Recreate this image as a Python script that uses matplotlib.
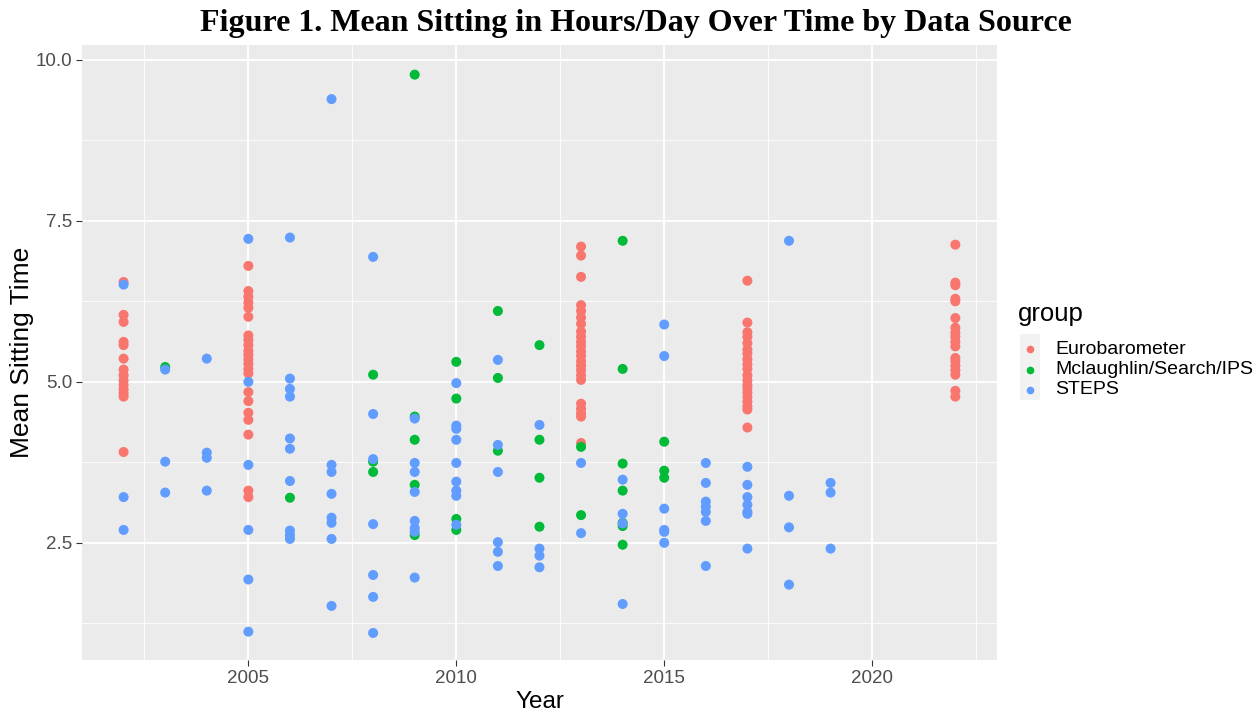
import matplotlib.pyplot as plt
from matplotlib.patches import Rectangle

plt.rcParams['font.family'] = ['Liberation Sans', 'DejaVu Sans']

# ---- data ----
groups = ["Eurobarometer", "Mclaughlin/Search/IPS", "STEPS"]
colors = ["#F8766D", "#00BA38", "#619CFF"]

# Eurobarometer: year -> mean sitting values
euro = {
    2002: [6.55, 6.04, 5.93, 5.62, 5.57, 5.36, 5.19, 5.10, 5.02, 4.95, 4.88, 4.82, 4.77, 3.91],
    2005: [6.80, 6.41, 6.32, 6.23, 6.15, 6.01, 5.72, 5.65, 5.57, 5.48, 5.42, 5.35, 5.28, 5.20,
           5.13, 4.84, 4.70, 4.52, 4.41, 4.18, 3.31, 3.21],
    2013: [7.10, 6.96, 6.63, 6.19, 6.10, 6.00, 5.90, 5.78, 5.70, 5.62, 5.55, 5.47, 5.40, 5.32,
           5.25, 5.18, 5.10, 5.03, 4.66, 4.58, 4.51, 4.46, 4.05],
    2017: [6.57, 5.92, 5.77, 5.70, 5.60, 5.50, 5.44, 5.35, 5.27, 5.20, 5.10, 5.02, 4.95, 4.90,
           4.83, 4.76, 4.69, 4.62, 4.57, 4.29],
    2022: [7.13, 6.54, 6.50, 6.29, 6.25, 5.99, 5.84, 5.76, 5.70, 5.62, 5.55, 5.37, 5.32, 5.25,
           5.18, 5.11, 4.86, 4.77],
}

mcl = {
    2003: [5.23],
    2006: [3.20],
    2008: [5.11, 3.76, 3.60],
    2009: [9.77, 4.46, 4.10, 3.40, 2.62],
    2010: [5.31, 4.74, 2.87, 2.70],
    2011: [6.10, 5.06, 3.93],
    2012: [5.57, 4.10, 3.51, 2.75],
    2013: [3.99, 2.93],
    2014: [7.19, 5.20, 3.73, 3.31, 2.81, 2.76, 2.47],
    2015: [4.07, 3.62, 3.51],
}

steps = {
    2002: [6.51, 3.21, 2.70],
    2003: [5.19, 3.76, 3.28],
    2004: [5.36, 3.90, 3.82, 3.31],
    2005: [7.22, 5.00, 3.71, 2.70, 1.93, 1.12],
    2006: [7.24, 5.05, 4.89, 4.77, 4.12, 3.96, 3.46, 2.69, 2.62, 2.56],
    2007: [9.39, 3.71, 3.60, 3.26, 2.89, 2.81, 2.56, 1.52],
    2008: [6.94, 4.50, 3.80, 2.79, 2.00, 1.66, 1.10],
    2009: [4.43, 3.74, 3.60, 3.29, 2.84, 2.73, 2.67, 1.96],
    2010: [4.98, 4.32, 4.27, 4.10, 3.74, 3.45, 3.31, 3.23, 2.78],
    2011: [5.34, 4.02, 3.60, 2.51, 2.36, 2.14],
    2012: [4.33, 2.41, 2.30, 2.12],
    2013: [3.74, 2.65],
    2014: [3.48, 2.95, 2.80, 1.55],
    2015: [5.89, 5.40, 3.03, 2.70, 2.67, 2.50],
    2016: [3.74, 3.43, 3.14, 3.06, 2.98, 2.84, 2.14],
    2017: [3.68, 3.40, 3.21, 3.09, 2.98, 2.95, 2.41],
    2018: [7.19, 3.23, 2.74, 1.85],
    2019: [3.43, 3.28, 2.41],
}

x_ticks = [2005, 2010, 2015, 2020]
y_ticks = [2.5, 5.0, 7.5, 10.0]

# ---- figure ----
fig = plt.figure(figsize=(12.54, 7.17), dpi=100)
ax = fig.add_axes([0.0654, 0.0795, 0.7296, 0.8577])
ax.set_facecolor("#EBEBEB")
for s in ax.spines.values():
    s.set_visible(False)

for data, col in zip([euro, mcl, steps], colors):
    xs, ys = [], []
    for yr, vals in data.items():
        xs += [yr] * len(vals)
        ys += vals
    ax.scatter(xs, ys, s=52, color=col, edgecolors="none", zorder=3)

ax.set_xlim(2001, 2023)
ax.set_ylim(0.68, 10.23)
ax.set_xticks(x_ticks)
ax.set_yticks(y_ticks)
ax.set_yticklabels(["2.5", "5.0", "7.5", "10.0"])
ax.set_xticks([2002.5, 2007.5, 2012.5, 2017.5, 2022.5], minor=True)
ax.set_yticks([1.25, 3.75, 6.25, 8.75], minor=True)
ax.grid(which="major", color="white", lw=1.3, zorder=0)
ax.grid(which="minor", color="white", lw=0.6, zorder=0)
ax.set_axisbelow(True)
ax.tick_params(which="major", length=4, color="#333333", labelsize=13.5,
               labelcolor="#4D4D4D", pad=3)
ax.tick_params(which="minor", length=0)

ax.set_xlabel("Year", fontsize=17.5, labelpad=3)
ax.set_ylabel("Mean Sitting Time", fontsize=19, labelpad=1)

fig.suptitle("Figure 1. Mean Sitting in Hours/Day Over Time by Data Source",
             family="Liberation Serif", fontweight="bold", fontsize=23, y=0.987, x=0.507)

# legend (ggplot-style)
fig.text(1018 / 1254, 1 - 314 / 717, "group", fontsize=18.5, va="center", ha="left")
fig.patches.append(Rectangle((1020 / 1254, 1 - 400 / 717), 20 / 1254, 66 / 717,
                             transform=fig.transFigure, facecolor="#F2F2F2",
                             edgecolor="none"))
for i, (g, col) in enumerate(zip(groups, colors)):
    yy = 1 - (349 + 20.5 * i) / 717
    fig.lines.append(plt.Line2D([1030 / 1254], [yy], marker="o", ms=5.5,
                                color=col, mec="none", transform=fig.transFigure))
    fig.text(1055 / 1254, yy, g, fontsize=14, va="center", ha="left")

fig.savefig("out.png", dpi=100)
